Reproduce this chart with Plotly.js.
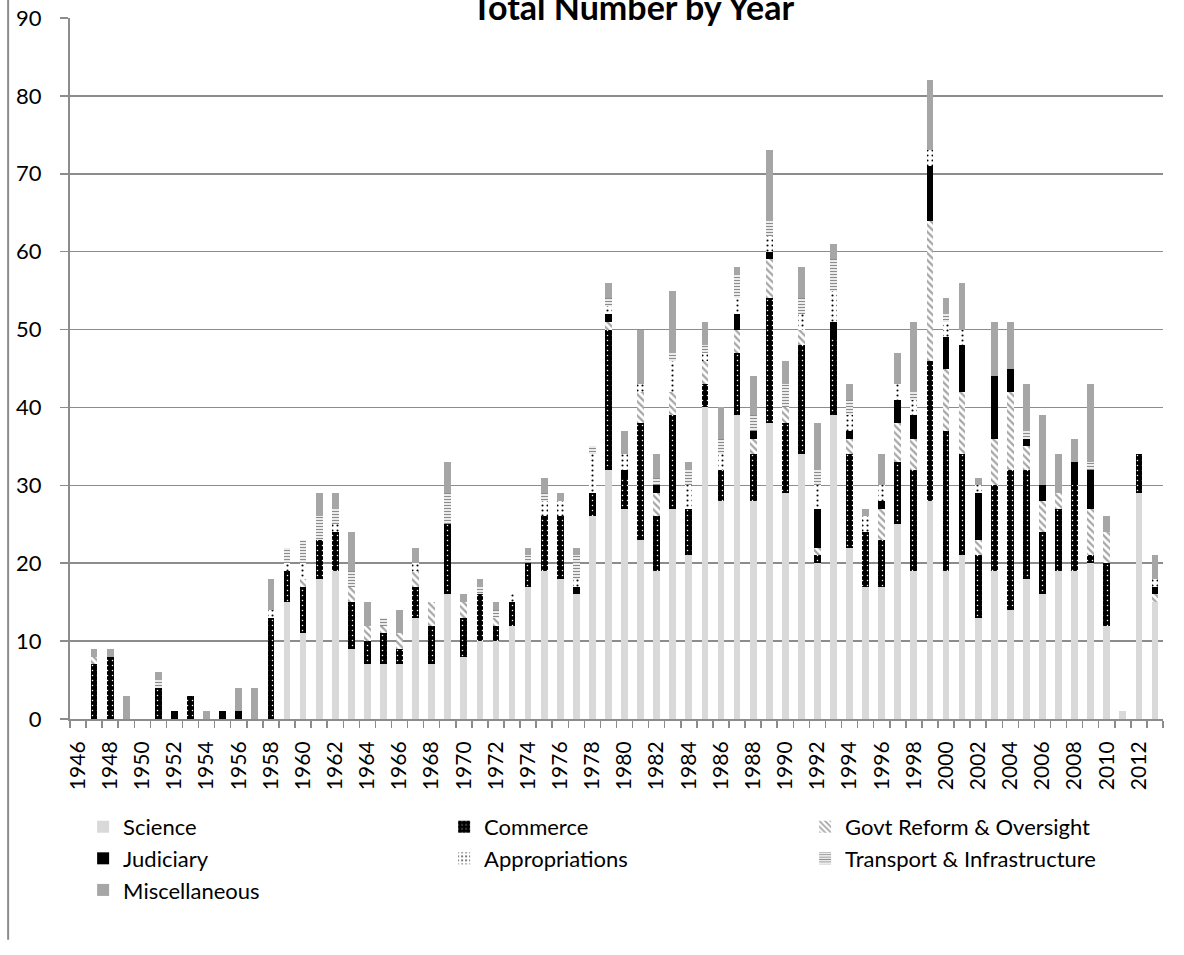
<!DOCTYPE html>
<html>
<head>
<meta charset="utf-8">
<script src="https://cdn.plot.ly/plotly-3.0.1.min.js"></script>
<style>html,body{margin:0;padding:0;background:#fff;}#chart{width:1184px;height:955px;}</style>
</head>
<body>
<div id="chart"></div>
<script>
var years = [1946,1947,1948,1949,1950,1951,1952,1953,1954,1955,1956,1957,1958,1959,
  1960,1961,1962,1963,1964,1965,1966,1967,1968,1969,1970,1971,1972,1973,1974,1975,
  1976,1977,1978,1979,1980,1981,1982,1983,1984,1985,1986,1987,1988,1989,1990,1991,
  1992,1993,1994,1995,1996,1997,1998,1999,2000,2001,2002,2003,2004,2005,2006,2007,
  2008,2009,2010,2011,2012,2013];

var science = [0,0,0,0,0,0,0,0,0,0,0,0,0,15,
  11,18,19,9,7,7,7,13,7,16,8,10,10,12,17,19,
  18,16,26,32,27,23,19,27,21,40,28,39,28,38,29,34,
  20,39,22,17,17,25,19,28,19,21,13,19,14,18,16,19,
  19,20,12,1,29,15];

var commerce = [0,7,8,0,0,4,0,3,0,0,0,0,13,4,
  6,5,5,6,3,4,2,4,5,9,5,6,2,3,3,7,
  8,0,3,18,4,15,7,12,6,3,4,8,6,16,9,14,
  1,10,12,7,6,8,13,18,18,13,8,11,18,14,8,8,
  11,1,8,0,5,0];

var govt = [0,1,0,0,0,0,0,0,0,0,0,0,0,0,
  1,0,0,2,2,1,2,2,3,0,2,0,1,0,0,0,
  0,0,0,1,0,4,3,3,0,3,0,3,2,5,2,2,
  1,0,2,0,4,5,4,18,8,8,2,6,10,3,4,2,
  0,6,4,0,0,1];

var judiciary = [0,0,0,0,0,0,1,0,0,1,1,0,0,0,
  0,0,0,0,0,0,0,0,0,0,0,0,0,0,0,0,
  0,1,0,1,1,0,1,0,0,0,0,2,1,1,0,0,
  5,2,1,0,1,3,3,7,4,6,6,8,3,1,2,0,
  3,5,0,0,0,1];

var appropriations = [0,0,0,0,0,0,0,0,0,0,0,0,1,1,
  2,0,1,0,0,0,0,1,0,0,0,0,0,1,0,2,
  2,1,5,1,2,1,0,4,3,1,2,2,0,2,0,2,
  3,4,2,2,2,2,2,2,2,2,1,0,0,0,0,0,
  0,0,0,0,0,1];

var transport = [0,0,0,0,0,1,0,0,0,0,0,0,0,2,
  3,3,2,2,0,1,0,0,0,4,0,1,1,0,1,1,
  0,3,1,1,0,0,1,1,2,1,2,3,2,2,3,2,
  2,4,2,0,0,0,1,0,1,0,0,0,0,1,0,0,
  0,1,0,0,0,0];

var misc = [0,1,1,3,0,1,0,0,1,0,3,4,4,0,
  0,3,2,5,3,0,3,2,0,4,1,1,1,0,1,2,
  1,1,0,2,3,7,3,8,1,3,4,1,5,9,3,4,
  6,2,2,1,4,4,9,9,2,6,1,7,6,6,9,5,
  3,10,2,0,0,3];

var labelYears = [1946,1948,1950,1952,1954,1956,1958,1960,1962,1964,1966,1968,1970,
  1972,1974,1976,1978,1980,1982,1984,1986,1988,1990,1992,1994,1996,1998,2000,2002,
  2004,2006,2008,2010,2012];

var seriesNames = ['Science','Commerce','Govt Reform & Oversight','Judiciary',
  'Appropriations','Transport & Infrastructure','Miscellaneous'];

var seriesData = [science, commerce, govt, judiciary, appropriations, transport, misc];

var markers = [
  {color:'#d9d9d9'},
  {color:'#000000', pattern:{shape:'.', fgcolor:'#ffffff', bgcolor:'#000000', size:5, solidity:0.07, fillmode:'replace'}},
  {color:'#ffffff', pattern:{shape:'\\', fgcolor:'#a6a6a6', bgcolor:'#ffffff', size:5, solidity:0.45, fillmode:'replace'}},
  {color:'#000000'},
  {color:'#ffffff', pattern:{shape:'.', fgcolor:'#000000', bgcolor:'#ffffff', size:5, solidity:0.14, fillmode:'replace'}},
  {color:'#ffffff', pattern:{shape:'-', fgcolor:'#8c8c8c', bgcolor:'#ffffff', size:3, solidity:0.45, fillmode:'replace'}},
  {color:'#a6a6a6'}
];

var traces = seriesNames.map(function(name, i){
  var m = JSON.parse(JSON.stringify(markers[i]));
  m.line = {width:0};
  return {
    type:'bar', name:name, x:years, y:seriesData[i],
    marker:m, width:0.42, hoverinfo:'x+y+name'
  };
});

var fontFam = 'Lato, "Open Sans", sans-serif';
var gridCol = '#8c8c8c';

var layout = {
  width:1184, height:955,
  margin:{l:70, r:21, t:18, b:236, pad:0},
  paper_bgcolor:'#ffffff', plot_bgcolor:'#ffffff',
  barmode:'stack',
  font:{family:fontFam, color:'#000000', size:22},
  title:{text:'Total Number by Year', font:{family:fontFam, size:34, weight:'bold', color:'#000000'},
    x:0.515, xanchor:'center', xref:'paper', yref:'container', y:0.992, yanchor:'middle'},
  xaxis:{
    type:'linear', range:[1945.5, 2013.5], fixedrange:true,
    tickmode:'array', tickvals:labelYears, ticktext:labelYears.map(String),
    tickangle:-90, ticks:'', showgrid:false, zeroline:false,
    showline:true, linecolor:gridCol, linewidth:2,
    tickfont:{family:fontFam, size:21, color:'#000000'},
    ticklabelstandoff:12,
    minor:{ticks:'outside', tick0:1945.5, dtick:1, ticklen:7, tickwidth:1.5, tickcolor:gridCol, showgrid:false}
  },
  yaxis:{
    range:[0,90], dtick:10, tick0:0, fixedrange:true,
    showgrid:true, gridcolor:gridCol, gridwidth:1.6,
    zeroline:false, showline:true, linecolor:gridCol, linewidth:2,
    ticks:'outside', ticklen:8, tickwidth:1.6, tickcolor:gridCol,
    tickfont:{family:fontFam, size:22, color:'#000000'},
    ticklabelstandoff:14
  },
  legend:{
    orientation:'h', x:0.012, xanchor:'left', y:-0.124, yanchor:'top',
    traceorder:'normal', entrywidth:316, entrywidthmode:'pixels',
    itemwidth:30, font:{family:fontFam, size:22, color:'#000000'},
    bgcolor:'rgba(0,0,0,0)', tracegroupgap:0
  },
  shapes:[
    {type:'line', xref:'paper', yref:'paper', x0:-0.0566, x1:-0.0566, y0:1.0257, y1:-0.315,
     line:{color:'#8c8c8c', width:2}}
  ]
};

Plotly.newPlot('chart', traces, layout, {displayModeBar:false, staticPlot:true});
</script>
</body>
</html>
